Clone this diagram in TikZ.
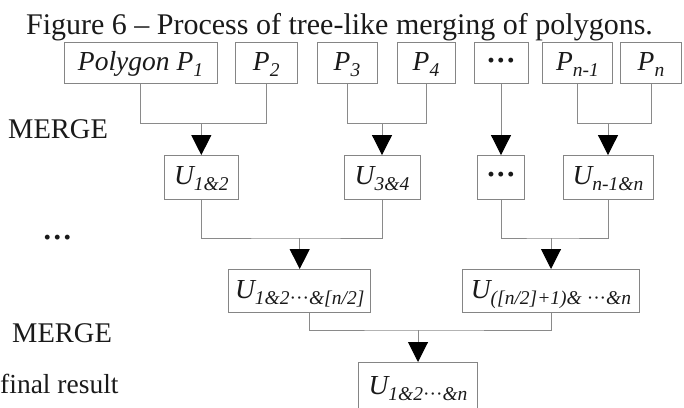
\documentclass[tikz,border=0pt]{standalone}
\usepackage{fontspec}
\setmainfont{Liberation Serif}
\usetikzlibrary{arrows.meta}
\definecolor{boxgray}{HTML}{858585}
\definecolor{linegray}{HTML}{8A8A8A}
\definecolor{txt}{HTML}{1A1A1A}
\newcommand\lsub[1]{\raisebox{-0.22em}{\fontsize{19.5}{19.5}\selectfont #1}}
\newcommand\bigdots{{\upshape\bfseries\fontsize{30}{30}\selectfont ···}}
\newcommand\smalldots{{\upshape\fontsize{19.5}{19.5}\selectfont ···}}
\begin{document}
\begin{tikzpicture}[x=1pt,y=-1pt,
  box/.style={draw=boxgray,line width=1pt,inner sep=0pt,
    font=\fontsize{27.5}{27.5}\selectfont\itshape,text=txt,text height=18pt,text depth=3pt},
  link/.style={draw=linegray,line width=1pt},
  arr/.style={link,-{Triangle[width=20pt,length=20pt,color=black]}},
  lab/.style={font=\fontsize{28.5}{28.5}\selectfont,text=txt,inner sep=0pt}]
\useasboundingbox (0,0) rectangle (684,407);
\clip (0,0) rectangle (684,407);
% title and side labels
\node[lab,font=\fontsize{30}{30}\selectfont,anchor=base] (title) at (339.5,34) {Figure 6 -- Process of tree-like merging of polygons.};
\node[lab,anchor=base west] (m1) at (8,138) {MERGE};
\node[lab] (dl) at (57.5,241) {\bigdots};
\node[lab,anchor=base west] (m2) at (12,342) {MERGE};
\node[lab,font=\fontsize{27.5}{27.5}\selectfont,anchor=base west] (fr) at (0,393) {final result};
% row 1
\node[box,minimum width=153pt,minimum height=41pt] (p1) at (140.5,63) {Polygon P\lsub{1}};
\node[box,minimum width=61.5pt,minimum height=41pt] (p2) at (266.25,63) {P\lsub{2}};
\node[box,minimum width=60pt,minimum height=41pt] (p3) at (347,63) {P\lsub{3}};
\node[box,minimum width=58pt,minimum height=41pt] (p4) at (426,63) {P\lsub{4}};
\node[box,minimum width=54pt,minimum height=41pt] (pd) at (501,63) {\bigdots};
\node[box,minimum width=69.5pt,minimum height=41pt] (pn1) at (577.5,63) {P\lsub{n-1}};
\node[box,minimum width=61.5pt,minimum height=41pt] (pn) at (651,63) {P\lsub{n}};
% row 2
\node[box,minimum width=74.6pt,minimum height=43.5pt] (u12) at (201.3,177.3) {U\lsub{1\&2}};
\node[box,minimum width=76pt,minimum height=43.5pt] (u34) at (382,177.3) {U\lsub{3\&4}};
\node[box,minimum width=46.6pt,minimum height=43.5pt] (ud) at (501,177.3) {\bigdots};
\node[box,minimum width=90pt,minimum height=43.5pt] (un) at (608,177.3) {U\lsub{n-1\&n}};
% row 3
\node[box,minimum width=141.5pt,minimum height=43pt] (ul) at (299.7,291) {U\lsub{1\&2\smalldots\&[n/2]}};
\node[box,minimum width=177pt,minimum height=43pt] (ur) at (551,291) {U\lsub{([n/2]+1)\& \smalldots\&n}};
% final
\node[box,minimum width=119.7pt,minimum height=48pt] (fin) at (418,386.5) {U\lsub{1\&2\smalldots\&n}};
% junctions
\coordinate (j1) at (u12.north |- 0,123.5);
\coordinate (j2) at (u34.north |- 0,123.5);
\coordinate (j3) at (un.north |- 0,123.5);
\coordinate (j4) at (ul.north |- 0,238);
\coordinate (j5) at (ur.north |- 0,238);
\coordinate (j6) at (fin.north |- 0,330);
\coordinate (ulo) at ([xshift=10pt]ul.south);
% connectors
\draw[link] (p1.south) |- (j1) -| (p2.south);
\draw[arr] (j1) -- (u12.north);
\draw[link] (p3.south) |- (j2) -| (p4.south);
\draw[arr] (j2) -- (u34.north);
\draw[arr] (pd.south) -- (ud.north);
\draw[link] (pn1.south) |- (j3) -| (pn.south);
\draw[arr] (j3) -- (un.north);
\draw[link] (u12.south) |- (j4) -| (u34.south);
\draw[arr] (j4) -- (ul.north);
\draw[link] (ud.south) |- (j5) -| (un.south);
\draw[arr] (j5) -- (ur.north);
\draw[link] (ulo) |- (j6) -| (ur.south);
\draw[arr] (j6) -- (fin.north);
\end{tikzpicture}
\end{document}
